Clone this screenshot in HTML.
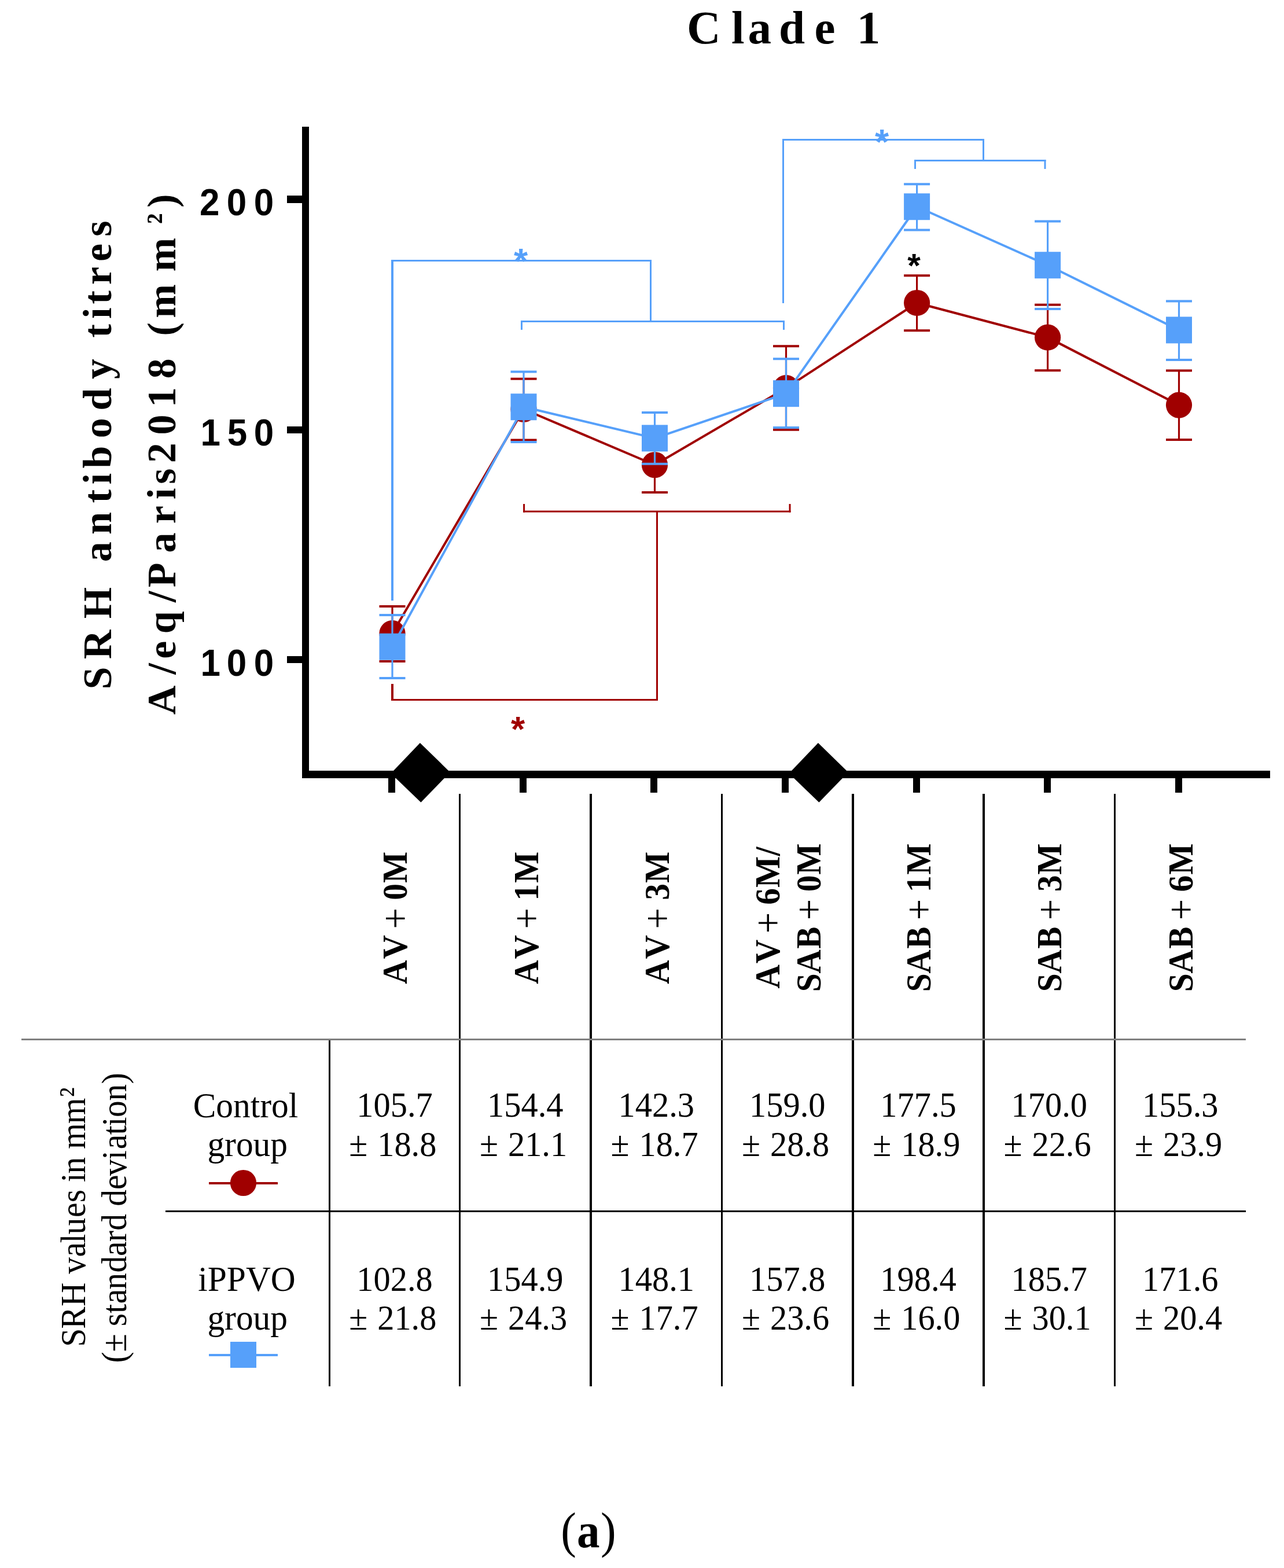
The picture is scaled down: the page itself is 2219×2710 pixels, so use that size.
<!DOCTYPE html>
<html lang="en">
<head>
<meta charset="utf-8">
<title>Clade 1</title>
<style>
html,body{margin:0;padding:0;background:#fff;}
body{width:2219px;height:2710px;overflow:hidden;}
svg{display:block;}
text{white-space:pre;font-kerning:none;}
.sb{font-family:'Liberation Serif', 'DejaVu Serif', serif;font-weight:bold;}
.sr{font-family:'Liberation Serif', 'DejaVu Serif', serif;font-weight:normal;}
.ab{font-family:'Liberation Sans', 'DejaVu Sans', sans-serif;font-weight:bold;}
</style>
</head>
<body>
<svg width="2219" height="2710" viewBox="0 0 2219 2710">
<rect x="0" y="0" width="2219" height="2710" fill="#ffffff"/>

<text class="sb" transform="translate(0,74.8)" x="1186.91 1264 1292.61 1345.99 1407.49 1443.44 1480.75" y="0" font-size="81" fill="#000">Clade 1</text>
<text class="sb" transform="translate(192.4,0) rotate(-90)" x="-1191.54 -1139.18 -1069.14 -1014.69 -971.2 -923.68 -869.27 -837.18 -809.49 -757.3 -709.59 -655.2 -620.2 -583.57 -551.08 -525.47 -492.12 -452.03 -408.83" y="0" font-size="70" fill="#000">SRH antibody titres</text>
<text class="sb" transform="translate(303.4,0) rotate(-90)" font-size="70" fill="#000"><tspan x="-1235.36 -1165.84 -1138.83 -1095.28 -1041.04 -1015.29 -955.5 -905.02 -862.98 -836.73 -800.37 -751.5 -703.89 -654.5 -619.5 -580.57 -549.5 -469.35" y="0">A/eq/Paris2018 (mm</tspan><tspan class="sb" x="-387.32" y="-7" font-size="62">²</tspan><tspan x="-358.65" y="0">)</tspan></text>
<text class="ab" transform="translate(0,371.85) scale(0.96,1)" x="359.42 408.1 457.16" y="0" font-size="64.5" fill="#000">200</text>
<text class="ab" transform="translate(0,769.95) scale(0.96,1)" x="360.85 409 457.16" y="0" font-size="64.5" fill="#000">150</text>
<text class="ab" transform="translate(0,1168.05) scale(0.96,1)" x="360.85 408.1 457.16" y="0" font-size="64.5" fill="#000">100</text>
<path d="M678 1038 V449" fill="none" stroke="#56a0fa" stroke-width="4" stroke-linejoin="miter" stroke-linecap="butt"/>
<path d="M676 450.5 H1126 M900 555.5 H1356" fill="none" stroke="#56a0fa" stroke-width="3" stroke-linejoin="miter" stroke-linecap="butt"/>
<path d="M1124.5 449 V557 M901.5 554 V570 M1354.5 554 V570" fill="none" stroke="#56a0fa" stroke-width="3" stroke-linejoin="miter" stroke-linecap="butt"/>
<path d="M1353.5 524 V240 M1699.5 240 V279 M1581.5 276 V292 M1806 276 V292" fill="none" stroke="#56a0fa" stroke-width="3" stroke-linejoin="miter" stroke-linecap="butt"/>
<path d="M1352 241.5 H1701 M1580 277.5 H1807.5" fill="none" stroke="#56a0fa" stroke-width="3" stroke-linejoin="miter" stroke-linecap="butt"/>
<path d="M905.6 871 V885.5 M1365 871 V885.5 M1135.5 884 V1211" fill="none" stroke="#a00000" stroke-width="3" stroke-linejoin="miter" stroke-linecap="butt"/>
<path d="M904 884 H1366.5 M676 1209.5 H1137" fill="none" stroke="#a00000" stroke-width="3" stroke-linejoin="miter" stroke-linecap="butt"/>
<path d="M678 1182 V1211" fill="none" stroke="#a00000" stroke-width="4" stroke-linejoin="miter" stroke-linecap="butt"/>
<polyline points="678,1094.66 905,707.25 1131.5,803.5 1358.5,670.65 1584.6,523.49 1810.6,583.15 2037.5,700.09" fill="none" stroke="#a00000" stroke-width="4" stroke-linejoin="round"/>
<path d="M678 1047.9V1142.9M905 654.7V760.4M1131.5 756V851M1358.5 598.2V742.8M1584.6 476.3V571.2M1810.6 526.7V640.3M2037.5 640.6V759.9" fill="none" stroke="#a00000" stroke-width="3.2" stroke-linejoin="miter" stroke-linecap="butt"/>
<path d="M655.5 1047.9H700.5M655.5 1142.9H700.5M882.5 654.7H927.5M882.5 760.4H927.5M1109 756H1154M1109 851H1154M1336 598.2H1381M1336 742.8H1381M1562.1 476.3H1607.1M1562.1 571.2H1607.1M1788.1 526.7H1833.1M1788.1 640.3H1833.1M2015 640.6H2060M2015 759.9H2060" fill="none" stroke="#a00000" stroke-width="4" stroke-linejoin="miter" stroke-linecap="butt"/>
<circle cx="678" cy="1094.66" r="22.6" fill="#a00000"/>
<circle cx="905" cy="707.25" r="22.6" fill="#a00000"/>
<circle cx="1131.5" cy="803.5" r="22.6" fill="#a00000"/>
<circle cx="1358.5" cy="670.65" r="22.6" fill="#a00000"/>
<circle cx="1584.6" cy="523.49" r="22.6" fill="#a00000"/>
<circle cx="1810.6" cy="583.15" r="22.6" fill="#a00000"/>
<circle cx="2037.5" cy="700.09" r="22.6" fill="#a00000"/>
<polyline points="678,1117.73 905,703.27 1131.5,757.36 1358.5,680.2 1584.6,357.23 1810.6,458.26 2037.5,570.42" fill="none" stroke="#56a0fa" stroke-width="4" stroke-linejoin="round"/>
<path d="M678 1062.9V1171.9M905 642.5V764M1131.5 713.1V801.8M1358.5 620.3V739.1M1584.6 318.3V397.6M1810.6 382.5V533.9M2037.5 520.4V622.1" fill="none" stroke="#56a0fa" stroke-width="3.2" stroke-linejoin="miter" stroke-linecap="butt"/>
<path d="M655.5 1062.9H700.5M655.5 1171.9H700.5M882.5 642.5H927.5M882.5 764H927.5M1109 713.1H1154M1109 801.8H1154M1336 620.3H1381M1336 739.1H1381M1562.1 318.3H1607.1M1562.1 397.6H1607.1M1788.1 382.5H1833.1M1788.1 533.9H1833.1M2015 520.4H2060M2015 622.1H2060" fill="none" stroke="#56a0fa" stroke-width="4" stroke-linejoin="miter" stroke-linecap="butt"/>
<rect x="655.5" y="1094.73" width="45" height="46" fill="#56a0fa"/>
<rect x="882.5" y="680.27" width="45" height="46" fill="#56a0fa"/>
<rect x="1109" y="734.36" width="45" height="46" fill="#56a0fa"/>
<rect x="1336" y="657.2" width="45" height="46" fill="#56a0fa"/>
<rect x="1562.1" y="334.23" width="45" height="46" fill="#56a0fa"/>
<rect x="1788.1" y="435.26" width="45" height="46" fill="#56a0fa"/>
<rect x="2015" y="547.42" width="45" height="46" fill="#56a0fa"/>
<text class="ab" x="888.08" y="471.62" font-size="62" fill="#56a0fa">*</text>
<text class="ab" x="1511.88" y="265.72" font-size="62" fill="#56a0fa">*</text>
<text class="ab" x="1568.26" y="479.11" font-size="58" fill="#000">*</text>
<text class="ab" x="882.88" y="1280.62" font-size="62" fill="#a00000">*</text>
<rect x="522" y="219" width="12" height="1126" fill="#000"/>
<rect x="522" y="1332" width="1673" height="13" fill="#000"/>
<rect x="496" y="338" width="27" height="13" fill="#000"/>
<rect x="496" y="737" width="27" height="12" fill="#000"/>
<rect x="496" y="1134" width="27" height="12" fill="#000"/>
<rect x="671" y="1344" width="12" height="26" fill="#000"/>
<rect x="898" y="1344" width="12" height="26" fill="#000"/>
<rect x="1124" y="1344" width="12" height="26" fill="#000"/>
<rect x="1351" y="1344" width="12" height="26" fill="#000"/>
<rect x="1578" y="1344" width="12" height="26" fill="#000"/>
<rect x="1804" y="1344" width="12" height="26" fill="#000"/>
<rect x="2031" y="1344" width="12" height="26" fill="#000"/>
<polygon points="725.9,1283.9 777.9,1334.7 727.4,1386.8 675.5,1336.7" fill="#000"/>
<polygon points="1413.9,1283.9 1465.9,1334.7 1415.4,1386.8 1363.5,1336.7" fill="#000"/>
<rect x="568" y="1797" width="3" height="599" fill="#000"/>
<rect x="793" y="1372" width="3" height="1024" fill="#000"/>
<rect x="1019" y="1372" width="4" height="1024" fill="#000"/>
<rect x="1246" y="1372" width="3" height="1024" fill="#000"/>
<rect x="1472" y="1372" width="4" height="1024" fill="#000"/>
<rect x="1698" y="1372" width="4" height="1024" fill="#000"/>
<rect x="1925" y="1372" width="3" height="1024" fill="#000"/>
<rect x="37" y="1795" width="2116" height="3" fill="#7f7f7f"/>
<rect x="286" y="2092" width="1867" height="3" fill="#000"/>
<text class="sb" transform="translate(703.05,0) rotate(-90) scale(0.935,1)" font-size="61.3" fill="#000"><tspan x="-1819 -1772.72 -1728.45" y="0">AV </tspan><tspan class="sr" x="-1717.03" y="4.2" font-size="69">+</tspan><tspan x="-1678.12 -1663.93 -1632.05" y="0"> 0M</tspan></text>
<text class="sb" transform="translate(929.65,0) rotate(-90) scale(0.935,1)" font-size="61.3" fill="#000"><tspan x="-1819 -1772.72 -1728.45" y="0">AV </tspan><tspan class="sr" x="-1717.03" y="4.2" font-size="69">+</tspan><tspan x="-1678.12 -1664.8 -1632.05" y="0"> 1M</tspan></text>
<text class="sb" transform="translate(1156,0) rotate(-90) scale(0.935,1)" font-size="61.3" fill="#000"><tspan x="-1819 -1772.72 -1728.45" y="0">AV </tspan><tspan class="sr" x="-1717.03" y="4.2" font-size="69">+</tspan><tspan x="-1678.12 -1664.04 -1632.05" y="0"> 3M</tspan></text>
<text class="sb" transform="translate(1346.9,0) rotate(-90) scale(0.935,1)" font-size="61.3" fill="#000"><tspan x="-1827.4 -1781.12 -1736.85" y="0">AV </tspan><tspan class="sr" x="-1725.37" y="4.2" font-size="69">+</tspan><tspan x="-1686.46 -1672.37 -1640.71 -1582.43" y="0"> 6M/</tspan></text>
<text class="sb" transform="translate(1417.9,0) rotate(-90) scale(0.935,1)" font-size="61.3" fill="#000"><tspan x="-1833.42 -1799.54 -1753.74 -1712.85" y="0">SAB </tspan><tspan class="sr" x="-1700.77" y="4.2" font-size="69">+</tspan><tspan x="-1661.86 -1648.43 -1616.75" y="0"> 0M</tspan></text>
<text class="sb" transform="translate(1607.9,0) rotate(-90) scale(0.935,1)" font-size="61.3" fill="#000"><tspan x="-1833.42 -1799.54 -1753.74 -1712.85" y="0">SAB </tspan><tspan class="sr" x="-1700.77" y="4.2" font-size="69">+</tspan><tspan x="-1661.86 -1649.29 -1616.75" y="0"> 1M</tspan></text>
<text class="sb" transform="translate(1834.3,0) rotate(-90) scale(0.935,1)" font-size="61.3" fill="#000"><tspan x="-1833.42 -1799.54 -1753.74 -1712.85" y="0">SAB </tspan><tspan class="sr" x="-1700.77" y="4.2" font-size="69">+</tspan><tspan x="-1661.86 -1648.53 -1616.75" y="0"> 3M</tspan></text>
<text class="sb" transform="translate(2060.7,0) rotate(-90) scale(0.935,1)" font-size="61.3" fill="#000"><tspan x="-1833.42 -1799.54 -1753.74 -1712.85" y="0">SAB </tspan><tspan class="sr" x="-1700.77" y="4.2" font-size="69">+</tspan><tspan x="-1661.86 -1648.58 -1616.75" y="0"> 6M</tspan></text>
<text class="sr" transform="translate(682,1930.2) scale(0.965,1)" x="0" y="0" font-size="60.5" text-anchor="middle" fill="#000">105.7</text>
<text class="sr" transform="translate(678.8,1997.8) scale(0.965,1)" x="0" y="0" font-size="60.5" text-anchor="middle" word-spacing="2.5" fill="#000">± 18.8</text>
<text class="sr" transform="translate(682,2230.6) scale(0.965,1)" x="0" y="0" font-size="60.5" text-anchor="middle" fill="#000">102.8</text>
<text class="sr" transform="translate(678.8,2298.4) scale(0.965,1)" x="0" y="0" font-size="60.5" text-anchor="middle" word-spacing="2.5" fill="#000">± 21.8</text>
<text class="sr" transform="translate(907.75,1930.2) scale(0.965,1)" x="0" y="0" font-size="60.5" text-anchor="middle" fill="#000">154.4</text>
<text class="sr" transform="translate(904.55,1997.8) scale(0.965,1)" x="0" y="0" font-size="60.5" text-anchor="middle" word-spacing="2.5" fill="#000">± 21.1</text>
<text class="sr" transform="translate(907.75,2230.6) scale(0.965,1)" x="0" y="0" font-size="60.5" text-anchor="middle" fill="#000">154.9</text>
<text class="sr" transform="translate(904.55,2298.4) scale(0.965,1)" x="0" y="0" font-size="60.5" text-anchor="middle" word-spacing="2.5" fill="#000">± 24.3</text>
<text class="sr" transform="translate(1134.25,1930.2) scale(0.965,1)" x="0" y="0" font-size="60.5" text-anchor="middle" fill="#000">142.3</text>
<text class="sr" transform="translate(1131.05,1997.8) scale(0.965,1)" x="0" y="0" font-size="60.5" text-anchor="middle" word-spacing="2.5" fill="#000">± 18.7</text>
<text class="sr" transform="translate(1134.25,2230.6) scale(0.965,1)" x="0" y="0" font-size="60.5" text-anchor="middle" fill="#000">148.1</text>
<text class="sr" transform="translate(1131.05,2298.4) scale(0.965,1)" x="0" y="0" font-size="60.5" text-anchor="middle" word-spacing="2.5" fill="#000">± 17.7</text>
<text class="sr" transform="translate(1360.75,1930.2) scale(0.965,1)" x="0" y="0" font-size="60.5" text-anchor="middle" fill="#000">159.0</text>
<text class="sr" transform="translate(1357.55,1997.8) scale(0.965,1)" x="0" y="0" font-size="60.5" text-anchor="middle" word-spacing="2.5" fill="#000">± 28.8</text>
<text class="sr" transform="translate(1360.75,2230.6) scale(0.965,1)" x="0" y="0" font-size="60.5" text-anchor="middle" fill="#000">157.8</text>
<text class="sr" transform="translate(1357.55,2298.4) scale(0.965,1)" x="0" y="0" font-size="60.5" text-anchor="middle" word-spacing="2.5" fill="#000">± 23.6</text>
<text class="sr" transform="translate(1587,1930.2) scale(0.965,1)" x="0" y="0" font-size="60.5" text-anchor="middle" fill="#000">177.5</text>
<text class="sr" transform="translate(1583.8,1997.8) scale(0.965,1)" x="0" y="0" font-size="60.5" text-anchor="middle" word-spacing="2.5" fill="#000">± 18.9</text>
<text class="sr" transform="translate(1587,2230.6) scale(0.965,1)" x="0" y="0" font-size="60.5" text-anchor="middle" fill="#000">198.4</text>
<text class="sr" transform="translate(1583.8,2298.4) scale(0.965,1)" x="0" y="0" font-size="60.5" text-anchor="middle" word-spacing="2.5" fill="#000">± 16.0</text>
<text class="sr" transform="translate(1813.25,1930.2) scale(0.965,1)" x="0" y="0" font-size="60.5" text-anchor="middle" fill="#000">170.0</text>
<text class="sr" transform="translate(1810.05,1997.8) scale(0.965,1)" x="0" y="0" font-size="60.5" text-anchor="middle" word-spacing="2.5" fill="#000">± 22.6</text>
<text class="sr" transform="translate(1813.25,2230.6) scale(0.965,1)" x="0" y="0" font-size="60.5" text-anchor="middle" fill="#000">185.7</text>
<text class="sr" transform="translate(1810.05,2298.4) scale(0.965,1)" x="0" y="0" font-size="60.5" text-anchor="middle" word-spacing="2.5" fill="#000">± 30.1</text>
<text class="sr" transform="translate(2039.75,1930.2) scale(0.965,1)" x="0" y="0" font-size="60.5" text-anchor="middle" fill="#000">155.3</text>
<text class="sr" transform="translate(2036.55,1997.8) scale(0.965,1)" x="0" y="0" font-size="60.5" text-anchor="middle" word-spacing="2.5" fill="#000">± 23.9</text>
<text class="sr" transform="translate(2039.75,2230.6) scale(0.965,1)" x="0" y="0" font-size="60.5" text-anchor="middle" fill="#000">171.6</text>
<text class="sr" transform="translate(2036.55,2298.4) scale(0.965,1)" x="0" y="0" font-size="60.5" text-anchor="middle" word-spacing="2.5" fill="#000">± 20.4</text>
<text class="sr" transform="translate(424.5,1931) scale(0.958,1)" x="0" y="0" font-size="62" text-anchor="middle" fill="#000">Control</text>
<text class="sr" transform="translate(427.7,1998.2) scale(0.958,1)" x="0" y="0" font-size="62" text-anchor="middle" fill="#000">group</text>
<text class="sr" transform="translate(426.5,2231) scale(0.958,1)" x="0" y="0" font-size="62" text-anchor="middle" fill="#000">iPPVO</text>
<text class="sr" transform="translate(427.7,2298.2) scale(0.958,1)" x="0" y="0" font-size="62" text-anchor="middle" fill="#000">group</text>
<path d="M361 2045 H480" stroke="#a00000" stroke-width="4" fill="none"/>
<circle cx="420.5" cy="2044.5" r="22.6" fill="#a00000"/>
<path d="M361 2342 H480" stroke="#56a0fa" stroke-width="4" fill="none"/>
<rect x="398" y="2319" width="45" height="45" fill="#56a0fa"/>
<text class="sr" transform="translate(147.2,0) rotate(-90) scale(0.935,1)" font-size="61.5" fill="#000"><tspan x="-2489.44 -2456.32 -2415.03 -2370.61 -2354.95 -2323.51 -2297.96 -2281.78 -2250.15 -2222.71 -2198.77 -2185.39 -2169.52 -2138.77 -2124.19 -2077.24" y="0">SRH values in mm</tspan><tspan class="sr" x="-2027.75" y="-3.1" font-size="60">²</tspan></text>
<text class="sr" transform="translate(217.8,0) rotate(-90) scale(0.935,1)" x="-2519.37 -2499.11 -2465.35 -2451.48 -2427.59 -2410.03 -2383.74 -2352.47 -2322.01 -2295.4 -2274.72 -2243.97 -2229.69 -2198.92 -2173.45 -2143.47 -2124.47 -2097.65 -2081.76 -2065.32 -2034.76 -2003.52" y="0" font-size="61.5" fill="#000">(± standard deviation)</text>
<text class="sb" transform="translate(0,2674.3) scale(0.93,1)" font-size="85" fill="#000"><tspan class="sr" x="1042.11" y="0" font-size="86">(</tspan><tspan x="1072.11" y="0">a</tspan><tspan class="sr" x="1116.24" y="0" font-size="86">)</tspan></text>
</svg>
</body>
</html>
